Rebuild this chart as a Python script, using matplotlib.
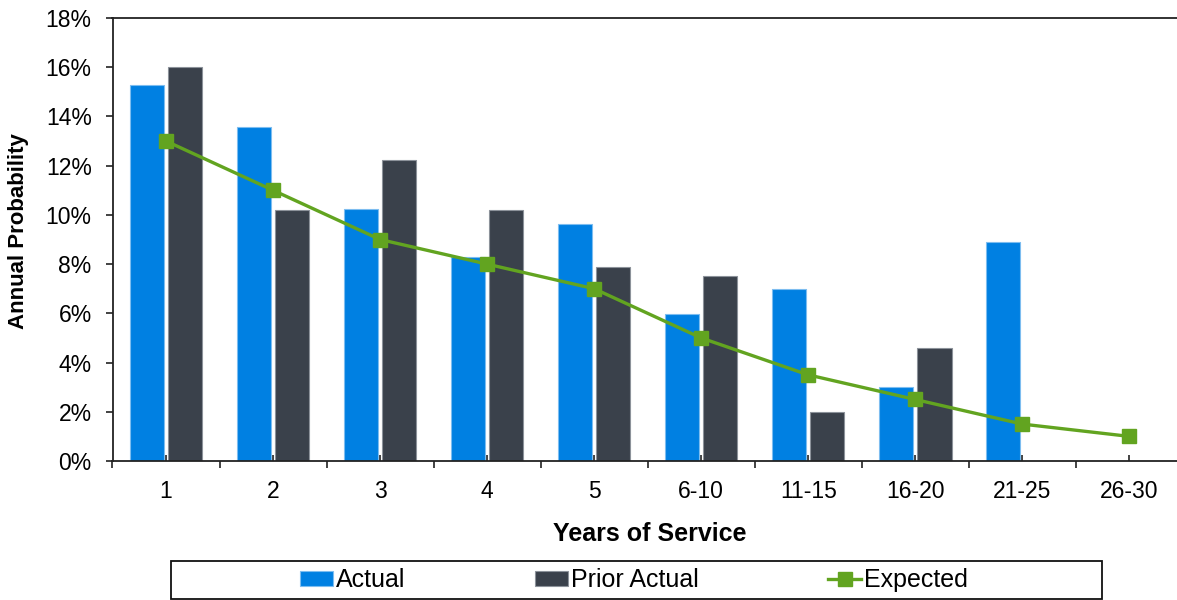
import matplotlib.pyplot as plt
import numpy as np
from matplotlib.patches import Rectangle
from matplotlib.ticker import FuncFormatter

plt.rcParams['font.family'] = ['Liberation Sans', 'DejaVu Sans']

# Datos
categorias = ['1', '2', '3', '4', '5', '6-10', '11-15', '16-20', '21-25', '26-30']
actual = [15.27, 13.56, 10.25, 8.30, 9.64, 5.97, 6.97, 3.01, 8.89, np.nan]
prior_actual = [16.01, 10.21, 12.22, 10.21, 7.87, 7.50, 1.98, 4.58, np.nan, np.nan]
esperado = [13.0, 11.0, 9.0, 8.0, 7.0, 5.0, 3.5, 2.5, 1.5, 1.0]

azul = '#0080E2'
gris = '#3A414B'
verde = '#62A420'

fig = plt.figure(figsize=(11.77, 6), dpi=100)
ax = fig.add_axes([112.5 / 1177, 1 - 461 / 600, 1070.3 / 1177, 443 / 600])

x = np.arange(len(categorias))
ancho = 0.322
b1 = ax.bar(x - 0.178, actual, ancho, color=azul, edgecolor='#7DBDF0', linewidth=0.8,
            label='Actual', zorder=2)
b2 = ax.bar(x + 0.178, prior_actual, ancho, color=gris, edgecolor='#8C929A', linewidth=0.8,
            label='Prior Actual', zorder=2)
l1, = ax.plot(x, esperado, color=verde, linewidth=2.4, marker='s', markersize=10.5,
              label='Expected', zorder=3)

ax.set_xlim(-0.5, len(categorias) - 0.5)
ax.set_ylim(0, 18)
ax.set_yticks(np.arange(0, 19, 2))
ax.yaxis.set_major_formatter(FuncFormatter(lambda v, p: '{:.0f}%'.format(v)))

# ticks mayores en los limites, menores (con etiqueta) en el centro
ax.set_xticks(np.arange(-0.5, len(categorias), 1))
ax.set_xticklabels([])
ax.set_xticks(x, minor=True)
ax.set_xticklabels(categorias, minor=True)
ax.tick_params(axis='x', which='major', direction='out', length=5, width=1.2, color='#222222')
ax.tick_params(axis='x', which='minor', direction='in', length=4.3, width=1.2, color='#222222',
               pad=14, labelsize=16.5)
ax.tick_params(axis='y', direction='out', length=5, width=1.2, color='#222222', pad=10,
               labelsize=16.5)

for lado in ['left', 'bottom', 'top']:
    ax.spines[lado].set_linewidth(1.3)
    ax.spines[lado].set_color('#222222')
ax.spines['right'].set_visible(False)

fig.text(19 / 1177, 1 - 231 / 600, 'Annual Probability', rotation=90, fontsize=16,
         fontweight='bold', ha='center', va='center')
fig.text(650 / 1177, 1 - 534 / 600, 'Years of Service', fontsize=18, fontweight='bold',
         ha='center', va='center')

# leyenda
caja = Rectangle((170.7 / 1177, 1 - 599 / 600), (1102 - 170.7) / 1177, 38.3 / 600,
                 transform=fig.transFigure, fill=False, edgecolor='#111111', linewidth=1.3)
fig.add_artist(caja)
fig.legend([b1, b2, l1], ['Actual', 'Prior Actual', 'Expected'], loc='center',
           bbox_to_anchor=(634 / 1177, 1 - 580 / 600), ncol=3, frameon=False,
           fontsize=18, handlelength=1.3, handleheight=0.55, handletextpad=0.12,
           columnspacing=5.2, borderaxespad=0)

fig.savefig('out.png', dpi=100)
